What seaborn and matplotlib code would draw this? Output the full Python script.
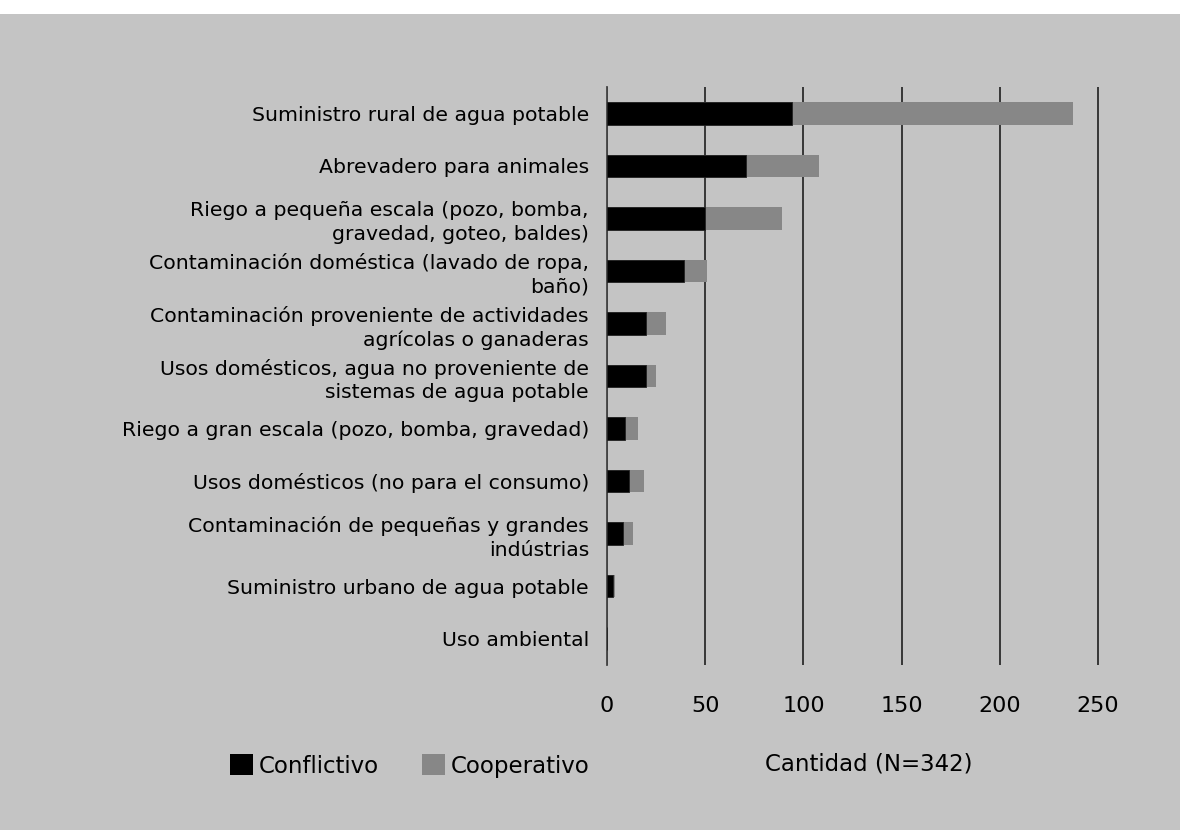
import numpy as np
import pandas as pd
import seaborn as sns
import matplotlib.pyplot as plt
from matplotlib.patches import Patch, Rectangle

usos = ['Suministro rural de agua potable',
        'Abrevadero para animales',
        'Riego a pequeña escala (pozo, bomba,\ngravedad, goteo, baldes)',
        'Contaminación doméstica (lavado de ropa,\nbaño)',
        'Contaminación proveniente de actividades\nagrícolas o ganaderas',
        'Usos domésticos, agua no proveniente de\nsistemas de agua potable',
        'Riego a gran escala (pozo, bomba, gravedad)',
        'Usos domésticos (no para el consumo)',
        'Contaminación de pequeñas y grandes\nindústrias',
        'Suministro urbano de agua potable',
        'Uso ambiental']
conflictivo = [94, 71, 50, 39, 20, 20, 9, 11, 8, 3, 0]
cooperativo = [143, 37, 39, 12, 10, 5, 7, 8, 5, 1, 0]

df = pd.DataFrame({'uso': usos, 'Conflictivo': conflictivo, 'Cooperativo': cooperativo})
df['total'] = df['Conflictivo'] + df['Cooperativo']

bg = '#c4c4c4'
gris = '#878787'
plt.rcParams['font.family'] = ['DejaVu Sans']

fig = plt.figure(figsize=(11.8, 8.3), dpi=100, facecolor=bg)
fig.patches.append(Rectangle((0, 1 - 14 / 830), 1, 14 / 830, transform=fig.transFigure,
                             facecolor='white', edgecolor='none', zorder=0))
# 0 -> x=607px, 250 -> x=1098px ; un poco de margen para que la linea de 250 no se corte
ax = fig.add_axes([607 / 1180, 1 - 665 / 830, 493 / 1180, 578 / 830])
ax.set_facecolor(bg)

# barras apiladas: primero el total (gris), encima el conflictivo (negro)
sns.barplot(data=df, x='total', y='uso', color=gris, width=0.43, ax=ax,
            saturation=1, edgecolor='none', zorder=2)
sns.barplot(data=df, x='Conflictivo', y='uso', color='black', width=0.43, ax=ax,
            saturation=1, edgecolor='#222222', linewidth=0.6, zorder=3)

ax.set_xlim(0, 251)
ax.set_xticks([0, 50, 100, 150, 200, 250])
ax.xaxis.grid(True, color='#111111', linewidth=1.1, zorder=1)
ax.set_axisbelow(True)
for s in ['top', 'right', 'bottom']:
    ax.spines[s].set_visible(False)
ax.spines['left'].set_color('#444444')
ax.spines['left'].set_linewidth(1.3)
ax.tick_params(axis='y', length=0, pad=13, labelsize=14.7)
ax.tick_params(axis='x', length=0, pad=22, labelsize=16)
for lbl in ax.get_yticklabels():
    lbl.set_linespacing(1.3)
ax.set_ylabel('')
ax.set_xlabel('Cantidad (N=342)', fontsize=16.5)
ax.xaxis.set_label_coords(0.531, -0.152)

handles = [Patch(facecolor='black', edgecolor='none', label='Conflictivo'),
           Patch(facecolor=gris, edgecolor='none', label='Cooperativo')]
fig.legend(handles=handles, loc='center left', bbox_to_anchor=(209 / 1180, 1 - 766 / 830),
           ncol=2, frameon=False, fontsize=16.5, handlelength=1.0, handleheight=1.0,
           handletextpad=0.25, columnspacing=1.9)

fig.savefig('out.png', dpi=100, facecolor=bg)
